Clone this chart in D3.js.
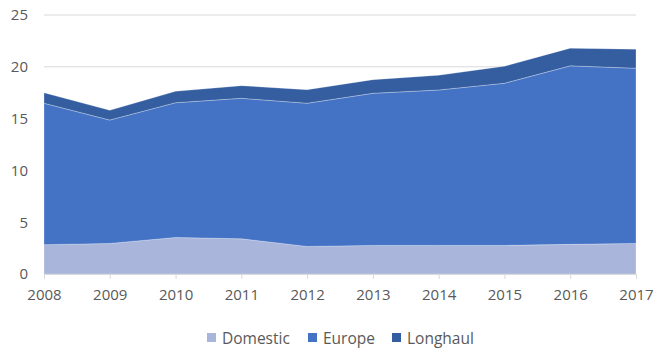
<!DOCTYPE html>
<html>
<head>
<meta charset="utf-8">
<script src="https://cdn.jsdelivr.net/npm/d3@7"></script>
<style>
  html, body { margin: 0; padding: 0; background: #fff; }
  svg { display: block; }
  text { font-family: "Open Sans", "Liberation Sans", sans-serif; fill: #595959; }
</style>
</head>
<body>
<svg id="chart" width="656" height="349"></svg>
<script>
// Passengers (millions) by market, stacked
const years = [2008, 2009, 2010, 2011, 2012, 2013, 2014, 2015, 2016, 2017];
const domestic = [2.83, 2.95, 3.53, 3.40, 2.66, 2.76, 2.76, 2.76, 2.86, 2.95];
const europe   = [13.65, 11.91, 13.00, 13.56, 13.82, 14.68, 15.00, 15.65, 17.23, 16.91];
const longhaul = [1.02, 0.94, 1.11, 1.22, 1.31, 1.32, 1.43, 1.65, 1.71, 1.84];
const seriesNames = ["Domestic", "Europe", "Longhaul"];
const seriesColors = ["#a9b5da", "#4472c4", "#345ea0"];
const yTicks = [0, 5, 10, 15, 20, 25];

const svg = d3.select("#chart");
const margin = { left: 44, right: 20, top: 15, bottom: 75 };
const W = 656, H = 349;

const x = d3.scalePoint().domain(years).range([margin.left, W - margin.right]);
const y = d3.scaleLinear().domain([0, 25]).range([H - margin.bottom, margin.top]);

const rows = years.map((yr, i) => ({
  year: yr, Domestic: domestic[i], Europe: europe[i], Longhaul: longhaul[i]
}));
const stacked = d3.stack().keys(seriesNames)(rows);

// gridlines
svg.append("g")
  .selectAll("line")
  .data(yTicks.filter(t => t > 0))
  .join("line")
  .attr("x1", margin.left).attr("x2", W - margin.right)
  .attr("y1", d => y(d)).attr("y2", d => y(d))
  .attr("stroke", "#d9d9d9").attr("stroke-width", 1);

// stacked areas
const area = d3.area()
  .x(d => x(d.data.year))
  .y0(d => y(d[0]))
  .y1(d => y(d[1]));

svg.append("g")
  .selectAll("path")
  .data(stacked)
  .join("path")
  .attr("d", area)
  .attr("fill", (d, i) => seriesColors[i])
  .attr("stroke", "rgba(255,255,255,0.45)")
  .attr("stroke-width", 0.6);

// x axis
const xAxis = svg.append("g")
  .attr("transform", `translate(0,${y(0)})`)
  .call(d3.axisBottom(x).tickSize(5).tickPadding(10));
xAxis.select(".domain").attr("stroke", "#d9d9d9");
xAxis.selectAll(".tick line").attr("stroke", "#d9d9d9");
xAxis.selectAll("text").attr("font-size", 15).style("fill", "#595959")
  .attr("font-family", "'Open Sans', sans-serif");

// y axis labels
const yAxis = svg.append("g")
  .attr("transform", `translate(${margin.left},0)`)
  .call(d3.axisLeft(y).tickValues(yTicks).tickSize(0).tickPadding(16));
yAxis.select(".domain").remove();
yAxis.selectAll("text").attr("font-size", 15).style("fill", "#595959")
  .attr("font-family", "'Open Sans', sans-serif");

// legend
const legendX = [207, 308, 392];
const legend = svg.append("g");
seriesNames.forEach((name, i) => {
  legend.append("rect")
    .attr("x", legendX[i]).attr("y", 333)
    .attr("width", 9).attr("height", 9)
    .attr("fill", seriesColors[i]);
  legend.append("text")
    .attr("x", legendX[i] + 15).attr("y", 343.5)
    .attr("font-size", 15.5)
    .text(name);
});
</script>
</body>
</html>
